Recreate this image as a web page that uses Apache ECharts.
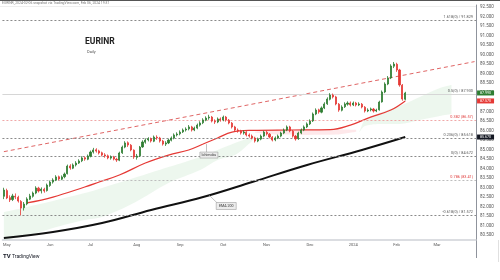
<!DOCTYPE html>
<html><head><meta charset="utf-8">
<script src="https://cdn.jsdelivr.net/npm/echarts@6/dist/echarts.min.js"></script>
<style>html,body{margin:0;padding:0;background:#fff}#c{width:500px;height:280px}</style>
</head><body><div id="c"></div>
<script>
// ---- data ----
const monthLabels = ['May','Jun','Jul','Aug','Sep','Oct','Nov','Dec','2024','Feb','Mar'];
const monthIdx = [1,16,30,46,61,76,91,106,121,136,150];
const slotCount = 164; // 140 daily candles + future slots
// [open, close, low, high]
const ohlc = [
[82.55,82.88,82.40,83.00],[82.85,82.46,82.40,82.95],[82.48,82.36,82.25,82.60],[82.38,82.57,82.30,82.68],
[82.55,82.51,82.40,82.70],[82.50,82.30,82.22,82.58],[82.28,81.93,81.55,82.35],[81.95,82.14,81.80,82.25],
[82.15,82.41,82.08,82.50],[82.40,82.57,82.35,82.68],[82.55,82.72,82.48,82.80],[82.72,82.99,82.66,83.08],
[82.98,82.83,82.75,83.05],[82.84,82.93,82.70,83.02],[82.92,82.83,82.74,83.00],[82.85,83.14,82.80,83.22],
[83.12,83.30,83.05,83.38],[83.30,83.41,83.22,83.50],[83.40,83.57,83.35,83.66],[83.58,83.46,83.38,83.64],
[83.45,83.57,83.40,83.65],[83.58,83.72,83.50,83.80],[83.74,84.14,83.70,84.22],[84.15,84.04,83.95,84.24],
[84.03,84.20,83.98,84.28],[84.20,84.30,84.12,84.40],[84.30,84.41,84.25,84.50],[84.42,84.57,84.35,84.66],
[84.58,84.51,84.42,84.65],[84.50,84.67,84.45,84.75],[84.66,84.88,84.60,84.96],[84.88,84.99,84.80,85.10],
[85.00,84.93,84.85,85.08],[84.94,84.83,84.75,85.00],[84.84,84.72,84.65,84.90],[84.73,84.67,84.58,84.82],
[84.68,84.57,84.50,84.75],[84.56,84.62,84.48,84.70],[84.62,84.51,84.44,84.68],[84.50,84.46,84.36,84.58],
[84.45,84.83,84.40,84.90],[84.84,85.14,84.78,85.22],[85.14,85.36,85.08,85.45],[85.37,85.25,85.15,85.44],
[85.24,84.99,84.92,85.30],[84.98,84.62,84.52,85.02],[84.60,84.67,84.48,84.78],[84.68,85.14,84.62,85.20],
[85.15,85.41,85.10,85.50],[85.40,85.51,85.32,85.60],[85.52,85.57,85.44,85.66],[85.58,85.46,85.38,85.64],
[85.45,85.67,85.40,85.75],[85.66,85.62,85.52,85.76],[85.62,85.46,85.38,85.68],[85.46,85.30,85.22,85.52],
[85.30,85.36,85.20,85.45],[85.36,85.51,85.30,85.58],[85.50,85.62,85.44,85.70],[85.62,85.78,85.55,85.86],
[85.78,85.83,85.70,85.92],[85.84,85.93,85.76,86.02],[85.94,86.04,85.88,86.12],[86.04,86.09,85.96,86.18],
[86.10,86.20,86.02,86.30],[86.20,86.04,85.96,86.26],[86.04,86.14,85.98,86.22],[86.14,86.30,86.08,86.38],
[86.30,86.41,86.22,86.50],[86.42,86.57,86.35,86.66],[86.56,86.67,86.50,86.76],[86.68,86.72,86.58,86.84],
[86.72,86.51,86.44,86.78],[86.50,86.46,86.36,86.60],[86.46,86.62,86.40,86.70],[86.62,86.57,86.48,86.70],
[86.57,86.72,86.50,86.80],[86.72,86.57,86.48,86.78],[86.56,86.41,86.34,86.62],[86.40,86.20,86.12,86.46],
[86.20,86.04,85.96,86.26],[86.04,85.99,85.90,86.12],[85.98,85.88,85.80,86.05],[85.88,85.93,85.80,86.02],
[85.92,85.78,85.70,85.98],[85.78,85.72,85.64,85.86],[85.72,85.62,85.55,85.80],[85.62,85.46,85.38,85.68],
[85.46,85.57,85.40,85.64],[85.56,85.72,85.50,85.80],[85.72,85.93,85.66,86.00],[85.92,85.83,85.75,86.00],
[85.82,85.67,85.60,85.88],[85.66,85.51,85.44,85.72],[85.52,85.62,85.45,85.70],[85.62,85.72,85.56,85.80],
[85.72,85.88,85.66,85.95],[85.88,86.04,85.82,86.12],[86.04,86.20,85.98,86.28],[86.20,85.99,85.92,86.26],
[85.98,85.72,85.64,86.04],[85.72,85.57,85.48,85.78],[85.58,85.88,85.52,85.95],[85.88,86.04,85.82,86.12],
[86.04,86.20,85.98,86.28],[86.20,86.36,86.14,86.44],[86.36,86.51,86.30,86.60],[86.52,86.88,86.46,86.96],
[86.88,87.09,86.82,87.18],[87.10,86.99,86.90,87.16],[86.98,87.20,86.92,87.28],[87.20,87.41,87.14,87.50],
[87.42,87.67,87.36,87.76],[87.66,87.88,87.60,87.98],[87.88,87.78,87.70,87.96],[87.78,87.41,87.34,87.84],
[87.40,87.09,87.00,87.46],[87.08,87.25,87.02,87.34],[87.26,87.41,87.20,87.50],[87.40,87.46,87.32,87.55],
[87.46,87.36,87.28,87.54],[87.36,87.46,87.30,87.54],[87.46,87.36,87.28,87.52],[87.36,87.41,87.30,87.50],
[87.40,87.25,87.18,87.46],[87.24,87.04,86.96,87.30],[87.04,87.09,86.98,87.18],[87.10,87.15,87.02,87.22],
[87.14,87.04,86.96,87.20],[87.04,87.09,86.98,87.16],[87.10,87.51,87.06,87.58],[87.52,88.04,87.48,88.12],
[88.04,88.46,87.98,88.55],[88.46,88.78,88.40,88.88],[88.78,89.41,88.72,89.50],[89.40,89.51,89.30,89.62],
[89.50,89.20,89.10,89.58],[89.20,88.41,88.32,89.26],[88.40,87.67,87.58,88.46],[87.66,87.99,87.60,88.05]
];
const maIdx = [8,17,28,33,40,49,57,64,69,74,79,86,100,113,120,127,134,139];
const maVal = [82.20,82.51,83.04,83.30,83.67,84.30,84.72,84.99,85.30,85.62,85.93,86.02,86.04,86.06,86.30,86.72,87.09,87.57];
const emaIdx = [0,17,34,51,69,86,105,124,139];
const emaVal = [80.36,80.67,81.14,81.83,82.51,83.30,84.20,84.99,85.67];
const cloudIdx = [0,8,17,28,34,45,57,68,74,80,86,88,122,125,131,137,144,151,155];
const cloudTop = [81.72,81.99,82.30,82.72,82.99,83.51,84.09,84.62,84.99,85.36,85.67,85.78,85.83,86.57,86.99,87.30,87.78,88.25,88.41];
const cloudBottom = [80.25,80.46,80.88,81.30,81.46,82.20,83.25,83.93,84.46,84.72,85.46,85.78,85.83,86.25,86.36,86.36,86.57,86.78,86.88];
const kumoRedIdx = [87,95,105,115,122];
const kumoRedTop = [85.95,86.05,86.06,86.06,86.05];
const kumoRedBottom = [85.90,85.80,85.78,85.80,85.95];
const trendIdx = [0,163];
const trendVal = [84.90,89.64];
const levelValues = [91.83,89.72,87.93,86.57,85.62,84.67,83.41,81.57];
const levelLabels = ['1.618(0) / 91.829','1(0.5) / 89.720','0.5(0) / 87.930','0.382 (86.57)','0.236(0) / 85.618','0(0) / 84.672','0.786 (83.41)','-0.618(0) / 81.572'];
const lastMA = maVal[maVal.length-1];
const lastEMA = emaVal[emaVal.length-1];

// ---- option ----
const FONT = 'Roboto, "Liberation Sans", sans-serif';
const categories = Array.from({length: slotCount}, (_, i) => 'd' + i);
const pair = (idx, vals) => idx.map((x, k) => [x, vals[k]]);
const levelStyles = [
  {line:{color:'#8a8a8a', type:[2,2], width:1}, label:'#555'},
  {line:{opacity:0}, label:'#555'},
  {line:{color:'#d6d6d6', type:'solid', width:1}, label:'#555'},
  {line:{color:'#f0a8a8', type:[2,2], width:1}, label:'#e04040'},
  {line:{color:'#8a8a8a', type:[2,2], width:1}, label:'#555'},
  {line:{color:'#8a8a8a', type:[2,2], width:1}, label:'#555'},
  {line:{color:'#bdbdbd', type:[2,2], width:1}, label:'#e04040'},
  {line:{color:'#8a8a8a', type:[2,2], width:1}, label:'#555'}
];
const hidden = {opacity:0};
const leader = {color:'#9a9a9a', width:0.6, type:'solid'};
const chart = echarts.init(document.getElementById('c'), null, {renderer:'canvas'});
chart.setOption({
  animation:false,
  backgroundColor:'#fff',
  textStyle:{fontFamily:FONT},
  grid:{left:0, right:24, top:5, bottom:40},
  xAxis:{
    type:'category', data:categories, boundaryGap:true,
    axisLine:{lineStyle:{color:'#cfd2d8', width:1.5}},
    axisTick:{show:false},
    axisLabel:{interval:(i)=>monthIdx.indexOf(i)>=0, formatter:(v,i)=>{const k=monthIdx.indexOf(i);return k>=0?monthLabels[k]:'';}, fontSize:4, color:'#555', margin:3},
    splitLine:{show:false}
  },
  yAxis:{
    type:'value', position:'right', min:80.25, max:92.62, interval:0.25, scale:true,
    axisLine:{show:true, lineStyle:{color:'#8f939c'}},
    axisTick:{show:false},
    splitLine:{show:false},
    axisLabel:{fontSize:4.5, color:'#555', margin:4, formatter:(v)=>Math.abs(v*2-Math.round(v*2))<1e-6?v.toFixed(3):''}
  },
  graphic:[
    {type:'rect', shape:{x:0,y:0,width:500,height:1}, style:{fill:'#555'}},
    {type:'line', shape:{x1:0,y1:6.5,x2:476,y2:6.5}, style:{stroke:'#eeeeee', lineWidth:1}},
    {type:'text', left:2, top:1.5, style:{text:'EURINR_2024-02-06 snapshot via TradingView.com, Feb 06, 2024 19:31', fontSize:3.4, fill:'#777', fontFamily:FONT}},
    {type:'text', left:85, top:37, style:{text:'EURINR', fontSize:8.5, fontWeight:'bold', fill:'#222', fontFamily:FONT}},
    {type:'text', left:87, top:49.5, style:{text:'Daily', fontSize:4, fill:'#555', fontFamily:FONT}},
    {type:'line', shape:{x1:476.5,y1:240,x2:476.5,y2:258}, style:{stroke:'#8f939c', lineWidth:1}},
    {type:'line', shape:{x1:498.5,y1:240,x2:498.5,y2:262}, style:{stroke:'#e0e0e0', lineWidth:1}},
    {type:'text', left:3, top:253, style:{text:'TV', fontSize:6, fontWeight:'bold', fill:'#131722', fontFamily:FONT}},
    {type:'text', left:12, top:253.8, style:{text:'TradingView', fontSize:5, fill:'#131722', fontFamily:FONT}}
  ],
  series:[
    {name:'cloudBase', type:'line', stack:'cloud', data:pair(cloudIdx, cloudBottom), symbol:'none', smooth:0.3, lineStyle:hidden, silent:true, z:1},
    {name:'cloud', type:'line', stack:'cloud', data:cloudIdx.map((x,k)=>[x, +(cloudTop[k]-cloudBottom[k]).toFixed(3)]), symbol:'none', smooth:0.3, lineStyle:hidden, areaStyle:{color:'rgba(76,175,80,0.14)'}, silent:true, z:1,
      markLine:{silent:true, symbol:['none','none'], label:{show:false}, lineStyle:leader,
        data:[[{coord:['d70', 85.30]},{coord:['d70', 84.88]}]]},
      markPoint:{symbol:'rect', symbolSize:[18,6], itemStyle:{color:'#ececec', borderColor:'#9a9a9a', borderWidth:0.5},
        label:{show:true, position:'inside', fontSize:3.6, color:'#333', formatter:'Ichimoku'},
        data:[{coord:['d71', 84.72]}]}},
    {name:'kumoBase', type:'line', stack:'kumo', data:pair(kumoRedIdx, kumoRedBottom), symbol:'none', smooth:0.3, lineStyle:hidden, silent:true, z:1},
    {name:'kumo', type:'line', stack:'kumo', data:kumoRedIdx.map((x,k)=>[x, +(kumoRedTop[k]-kumoRedBottom[k]).toFixed(3)]), symbol:'none', smooth:0.3, lineStyle:hidden, areaStyle:{color:'rgba(242,54,69,0.16)'}, silent:true, z:1},
    {name:'levels', type:'line', data:pair(trendIdx, trendVal), symbol:'none', z:2,
      lineStyle:{color:'#e06666', type:[4,3], width:1},
      markLine:{silent:true, symbol:['none','none'],
        data:levelValues.map((v,k)=>({yAxis:v, lineStyle:levelStyles[k].line,
          label:{show:true, position:'insideEndTop', distance:[3,1], formatter:levelLabels[k], fontSize:3.8, color:levelStyles[k].label}}))}},
    {name:'EMA 200', type:'line', data:pair(emaIdx, emaVal), symbol:'none', smooth:0.4, lineStyle:{color:'#111', width:2}, z:3,
      markLine:{silent:true, symbol:['none','none'], label:{show:false}, lineStyle:leader,
        data:[[{coord:['d71', 82.62]},{coord:['d74', 82.18]}]]},
      markPoint:{data:[
        {coord:['d163', lastEMA], symbol:'rect', symbolSize:[17,5], symbolOffset:[11,0], itemStyle:{color:'#131722'}, label:{show:true, position:'inside', fontSize:3.6, color:'#fff', formatter:lastEMA.toFixed(3)}},
        {coord:['d77', 82.04], symbol:'rect', symbolSize:[20,7], itemStyle:{color:'#ececec', borderColor:'#9a9a9a', borderWidth:0.5}, label:{show:true, position:'inside', fontSize:3.6, color:'#333', formatter:'EMA 200'}}
      ]}},
    {name:'MA', type:'line', data:pair(maIdx, maVal), symbol:'none', smooth:0.4, lineStyle:{color:'#e53935', width:1.2}, z:4,
      markPoint:{data:[{coord:['d163', lastMA], symbol:'rect', symbolSize:[17,5], symbolOffset:[11,0], itemStyle:{color:'#e53935'}, label:{show:true, position:'inside', fontSize:3.6, color:'#fff', formatter:lastMA.toFixed(3)}}]}},
    {name:'EURINR', type:'candlestick', data:ohlc, barWidth:'55%', z:5,
      itemStyle:{color:'#2e7d32', color0:'#e53935', borderColor:'#2e7d32', borderColor0:'#e53935', borderWidth:0.8},
      markPoint:{data:[{coord:['d163', ohlc[ohlc.length-1][1]], symbol:'rect', symbolSize:[17,5], symbolOffset:[11,0], itemStyle:{color:'#2e7d32'}, label:{show:true, position:'inside', fontSize:3.6, color:'#fff', formatter:ohlc[ohlc.length-1][1].toFixed(3)}}]}}
  ]
});
</script></body></html>
